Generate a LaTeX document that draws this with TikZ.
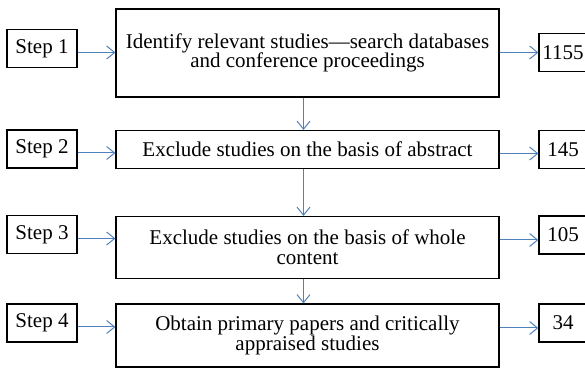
\documentclass[tikz,border=0pt]{standalone}
\usepackage{fontspec}
\setmainfont{Liberation Serif}
\usetikzlibrary{arrows.meta, calc, positioning}

\definecolor{flowblue}{RGB}{79,129,189}
\tikzset{
	stepbox/.style={draw, line width=0.6pt, minimum width=35pt, minimum height=19pt, inner sep=1pt},
	taskbox/.style={draw, line width=0.6pt, minimum width=191.5pt, align=center, inner sep=2pt},
	countbox/.style={draw, line width=0.6pt, minimum width=24pt, minimum height=19pt, inner sep=1pt},
	flow/.style={draw=flowblue, line width=0.5pt, -{Straight Barb[length=4pt,width=6.5pt]}}
}

\begin{document}
\begin{tikzpicture}[x=0.5pt, y=-0.5pt, font=\fontsize{10.5}{9.8}\selectfont]
	\useasboundingbox (0,0) rectangle (585,369);
	\clip (0,0) rectangle (585,369);

	% steps
	\node[stepbox] (s1) at (42,48.5) {Step 1};
	\node[stepbox] (s2) at (42,149) {Step 2};
	\node[stepbox] (s3) at (42,234.5) {Step 3};
	\node[stepbox] (s4) at (42,323) {Step 4};

	% tasks
	\node[taskbox, minimum height=44pt] (m1) at (307.5,53) {Identify relevant studies---search databases\\and conference proceedings};
	\node[taskbox, minimum height=19pt] (m2) at (307.5,149.5) {Exclude studies on the basis of abstract};
	\node[taskbox, minimum height=31pt] (m3) at (307.5,247.5) {Exclude studies on the basis of whole\\content};
	\node[taskbox, minimum height=31.5pt] (m4) at (307.5,335.5) {Obtain primary papers and critically\\appraised studies};

	% counts
	\node[countbox] (n1) at (563,52.5) {1155};
	\node[countbox] (n2) at (563,149.5) {145};
	\node[countbox] (n3) at (563,235) {105};
	\node[countbox] (n4) at (563,323) {34};

	\draw[flow] ([yshift=-2pt]s1.east) -- ([yshift=-2pt]s1.east -| m1.west);
	\draw[flow] ([yshift=-2pt]s2.east) -- ([yshift=-2pt]s2.east -| m2.west);
	\draw[flow] ([yshift=-2pt]s3.east) -- ([yshift=-2pt]s3.east -| m3.west);
	\draw[flow] ([yshift=-2pt]s4.east) -- ([yshift=-2pt]s4.east -| m4.west);

	\draw[flow] (n1.west -| m1.east) -- (n1.west);
	\draw[flow] ([yshift=-2pt]n2.west -| m2.east) -- ([yshift=-2pt]n2.west);
	\draw[flow] ([yshift=-2.5pt]n3.west -| m3.east) -- ([yshift=-2.5pt]n3.west);
	\draw[flow] ([yshift=-2.5pt]n4.west -| m4.east) -- ([yshift=-2.5pt]n4.west);

	\draw[flow] ([xshift=-2pt]m1.south) -- ([xshift=-2pt]m1.south |- m2.north);
	\draw[flow] ([xshift=-2pt]m2.south) -- ([xshift=-2pt]m2.south |- m3.north);
	\draw[flow] ([xshift=-2pt]m3.south) -- ([xshift=-2pt]m3.south |- m4.north);
\end{tikzpicture}
\end{document}
